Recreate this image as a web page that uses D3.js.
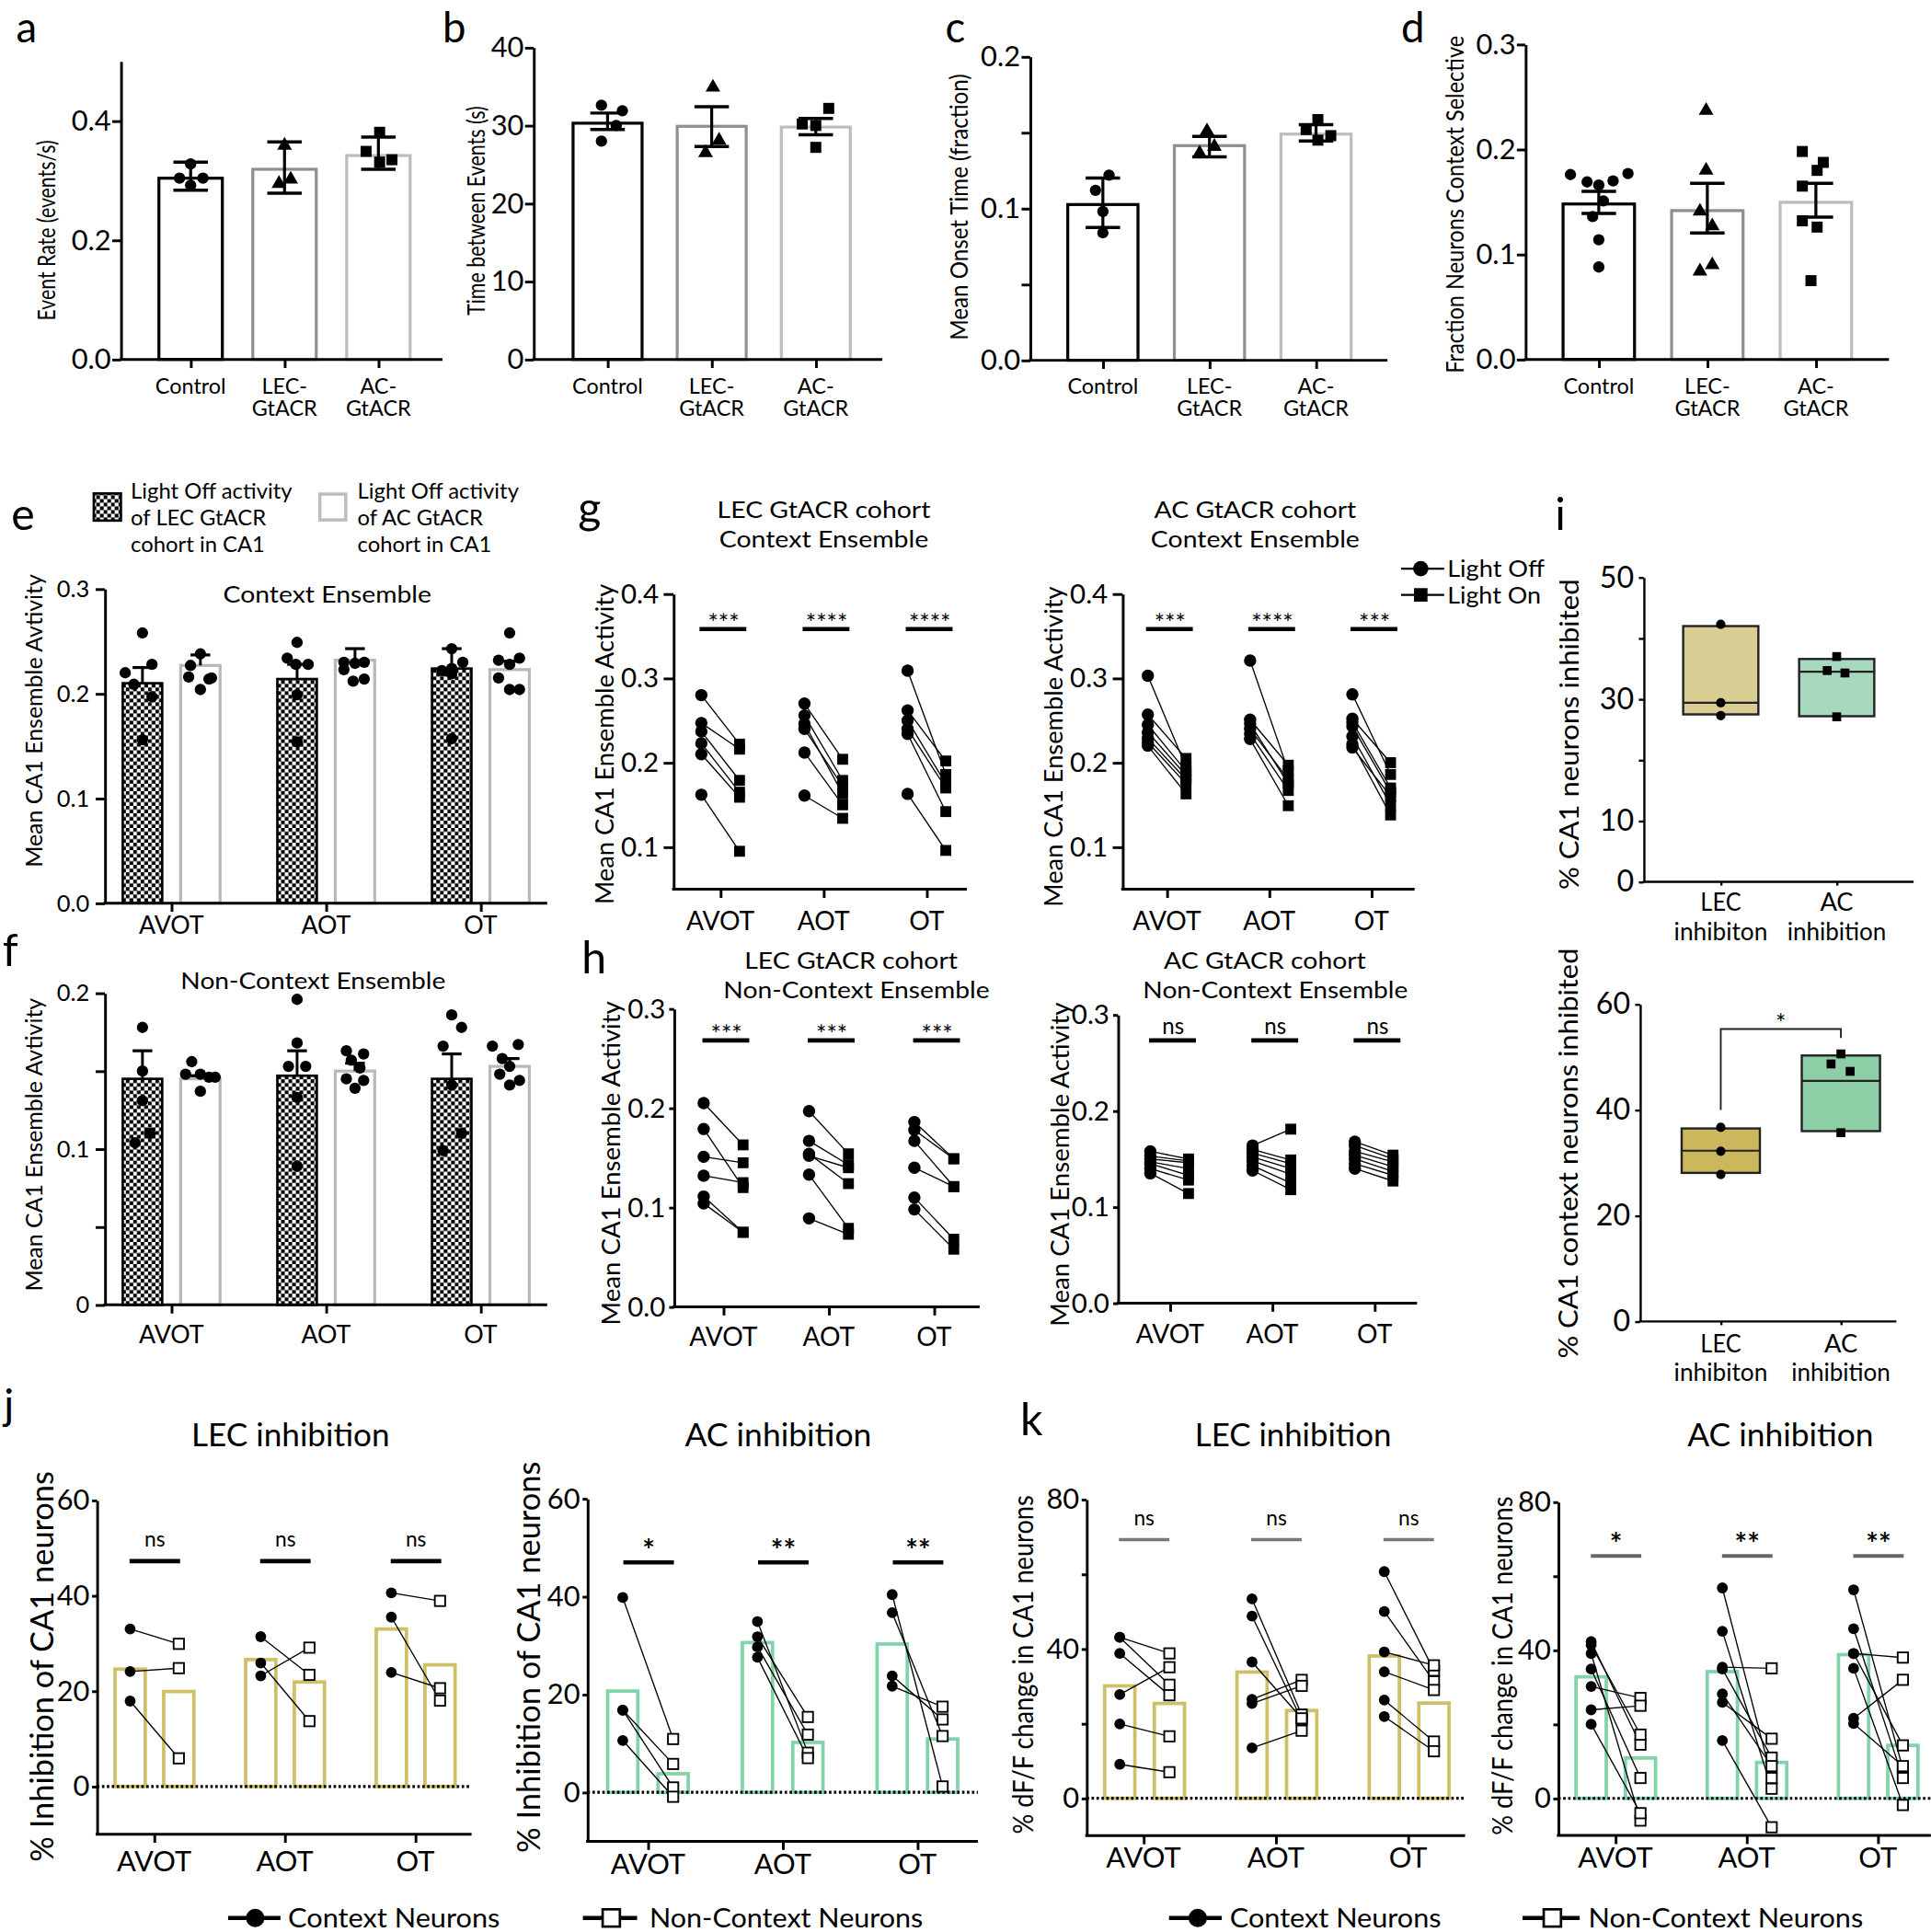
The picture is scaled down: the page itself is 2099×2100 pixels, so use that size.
<!DOCTYPE html>
<html><head><meta charset="utf-8">
<script src="https://cdn.jsdelivr.net/npm/d3@7"></script>
<style>html,body{margin:0;padding:0;background:#fff;} svg{display:block;}</style>
</head><body><script>
// ===================== DATA =====================
// a–d
const adCategories = ["Control", "LEC-GtACR", "AC-GtACR"];
const adCategoryLines = [["Control"], ["LEC-", "GtACR"], ["AC-", "GtACR"]];
const aMeans = [0.304, 0.319, 0.342];
const aErrLow = [0.284, 0.279, 0.319];
const aErrHigh = [0.331, 0.365, 0.373];
const aPoints = [[0.328, 0.304, 0.304, 0.292], [0.359, 0.295, 0.302], [0.381, 0.349, 0.335, 0.331]];
const aTickValues = [0, 0.2, 0.4];
const aTickLabels = ["0.0", "0.2", "0.4"];

const bMeans = [30.3, 29.9, 29.8];
const bErrLow = [29.5, 27.3, 28.8];
const bErrHigh = [31.6, 32.4, 30.9];
const bPoints = [[32.6, 31.9, 30.0, 28.0], [34.9, 28.1, 26.5], [32.2, 30.2, 30.0, 27.2]];
const bTickValues = [0, 10, 20, 30, 40];
const bTickLabels = ["0", "10", "20", "30", "40"];

const cMeans = [0.1026, 0.1414, 0.149];
const cErrLow = [0.0875, 0.134, 0.1444];
const cErrHigh = [0.120, 0.1475, 0.1552];
const cPoints = [[0.122, 0.112, 0.098, 0.084], [0.151, 0.1408, 0.1364], [0.1586, 0.152, 0.148, 0.145]];
const cTickValues = [0, 0.05, 0.1, 0.15, 0.2];
const cTickLabels = ["0.0", "", "0.1", "", "0.2"];

const dMeans = [0.148, 0.1417, 0.1496];
const dErrLow = [0.139, 0.1204, 0.1355];
const dErrHigh = [0.160, 0.1677, 0.1677];
const dPoints = [[0.176, 0.169, 0.166, 0.170, 0.177, 0.151, 0.136, 0.114, 0.088],
                 [0.237, 0.180, 0.141, 0.127, 0.084, 0.090],
                 [0.198, 0.1876, 0.180, 0.165, 0.132, 0.126, 0.075]];
const dTickValues = [0, 0.1, 0.2, 0.3];
const dTickLabels = ["0.0", "0.1", "0.2", "0.3"];

// e–f
const efCategories = ["AVOT", "AOT", "OT"];
const eLecMeans = [0.210, 0.214, 0.224];
const eLecErrTop = [0.225, 0.228, 0.243];
const eLecPoints = [[0.258, 0.228, 0.220, 0.209, 0.197, 0.156], [0.249, 0.234, 0.228, 0.228, 0.199, 0.154], [0.243, 0.230, 0.222, 0.219, 0.224, 0.157]];
const eAcMeans = [0.227, 0.232, 0.223];
const eAcErrTop = [0.237, 0.243, 0.231];
const eAcPoints = [[0.238, 0.227, 0.216, 0.215, 0.214, 0.204], [0.230, 0.230, 0.229, 0.223, 0.214, 0.212], [0.258, 0.232, 0.234, 0.228, 0.215, 0.204, 0.204]];
const eTickValues = [0, 0.1, 0.2, 0.3];
const eTickLabels = ["0.0", "0.1", "0.2", "0.3"];

const fLecMeans = [0.145, 0.147, 0.145];
const fLecErrTop = [0.163, 0.163, 0.161];
const fLecPoints = [[0.178, 0.150, 0.131, 0.110, 0.104], [0.196, 0.168, 0.153, 0.153, 0.133, 0.089], [0.186, 0.178, 0.166, 0.141, 0.110, 0.099]];
const fAcMeans = [0.145, 0.150, 0.153];
const fAcErrTop = [0.147, 0.155, 0.158];
const fAcPoints = [[0.156, 0.148, 0.148, 0.146, 0.146, 0.137], [0.163, 0.161, 0.157, 0.152, 0.145, 0.144, 0.139], [0.166, 0.167, 0.158, 0.153, 0.148, 0.144, 0.141]];
const fTickValues = [0, 0.05, 0.1, 0.15, 0.2];
const fTickLabels = ["0", "", "0.1", "", "0.2"];

// g–h (Light Off vs Light On)
const ghCategories = ["AVOT", "AOT", "OT"];
const gLecOff = [[0.280, 0.247, 0.237, 0.223, 0.210, 0.162], [0.270, 0.256, 0.246, 0.240, 0.212, 0.161], [0.309, 0.262, 0.250, 0.240, 0.234, 0.163]];
const gLecOn  = [[0.222, 0.216, 0.179, 0.165, 0.159, 0.095], [0.204, 0.179, 0.163, 0.172, 0.150, 0.134], [0.186, 0.202, 0.175, 0.170, 0.142, 0.096]];
const gAcOff = [[0.303, 0.257, 0.245, 0.236, 0.229, 0.224, 0.220], [0.321, 0.251, 0.246, 0.240, 0.234, 0.228], [0.281, 0.252, 0.248, 0.243, 0.231, 0.218, 0.222]];
const gAcOn  = [[0.195, 0.205, 0.190, 0.185, 0.180, 0.175, 0.163], [0.190, 0.197, 0.175, 0.180, 0.167, 0.149], [0.186, 0.200, 0.170, 0.165, 0.150, 0.160, 0.138]];
const gLecSig = ["***", "****", "****"];
const gAcSig = ["***", "****", "***"];
const gTickValues = [0.1, 0.2, 0.3, 0.4];
const gTickLabels = ["0.1", "0.2", "0.3", "0.4"];

const hLecOff = [[0.205, 0.179, 0.151, 0.132, 0.111, 0.104], [0.197, 0.167, 0.154, 0.152, 0.133, 0.089], [0.186, 0.178, 0.167, 0.140, 0.110, 0.098]];
const hLecOn  = [[0.163, 0.120, 0.145, 0.125, 0.075, 0.075], [0.154, 0.143, 0.124, 0.140, 0.079, 0.073], [0.149, 0.149, 0.121, 0.121, 0.068, 0.058]];
const hAcOff = [[0.158, 0.153, 0.150, 0.147, 0.145, 0.140, 0.135], [0.164, 0.160, 0.156, 0.152, 0.148, 0.143, 0.138], [0.168, 0.164, 0.158, 0.154, 0.150, 0.145, 0.140]];
const hAcOn  = [[0.150, 0.148, 0.146, 0.140, 0.133, 0.128, 0.114], [0.181, 0.149, 0.145, 0.140, 0.134, 0.125, 0.118], [0.154, 0.150, 0.147, 0.142, 0.137, 0.133, 0.127]];
const hLecSig = ["***", "***", "***"];
const hAcSig = ["ns", "ns", "ns"];
const hTickValues = [0, 0.1, 0.2, 0.3];
const hTickLabels = ["0.0", "0.1", "0.2", "0.3"];

// i (box plots)
const iCategories = ["LEC inhibiton", "AC inhibition"];
const iCategoryLines = [["LEC", "inhibiton"], ["AC", "inhibition"]];
const iTopQ1 = [27.5, 27.2];
const iTopMedian = [29.4, 34.5];
const iTopQ3 = [42.0, 36.6];
const iTopPoints = [[42.3, 29.4, 27.3], [37.0, 34.7, 34.3, 27.1]];
const iTopTickValues = [0, 10, 20, 30, 40, 50];
const iTopTickLabels = ["0", "10", "", "30", "", "50"];
const iBotQ1 = [28.1, 36.0];
const iBotMedian = [32.3, 45.5];
const iBotQ3 = [36.5, 50.3];
const iBotPoints = [[36.7, 32.2, 27.8], [50.6, 48.7, 47.3, 35.7]];
const iBotTickValues = [0, 20, 40, 60];
const iBotTickLabels = ["0", "20", "40", "60"];
const iBotBracket = [40, 55.3, 53.6];

// j (% inhibition)
const jkCategories = ["AVOT", "AOT", "OT"];
const jLecCtx = [[33.0, 24.1, 17.9], [31.4, 25.9, 23.2], [40.6, 35.5, 23.9]];
const jLecNon = [[29.9, 24.8, 5.9], [23.4, 13.7, 29.1], [38.9, 18.0, 20.6]];
const jLecCtxBar = [24.6, 26.6, 33.0];
const jLecNonBar = [19.9, 21.9, 25.5];
const jAcCtx = [[39.8, 16.8, 16.8, 10.6], [34.9, 31.8, 29.7, 27.6], [40.4, 36.7, 23.8, 21.7]];
const jAcNon = [[10.9, 5.8, 1.0, -0.9], [8.1, 15.4, 11.8, 7.0], [1.2, 11.5, 14.9, 17.5]];
const jAcCtxBar = [20.7, 30.6, 30.3];
const jAcNonBar = [3.8, 10.2, 10.9];
const jLecSig = ["ns", "ns", "ns"];
const jAcSig = ["*", "**", "**"];
const jTickValues = [0, 20, 40, 60];
const jTickLabels = ["0", "20", "40", "60"];

// k (% dF/F change)
const kLecCtx = [[43.1, 43.1, 38.8, 27.8, 19.9, 9.1], [53.4, 48.8, 36.5, 26.5, 25.4, 13.5], [60.7, 50.0, 39.2, 33.9, 26.3, 21.9]];
const kLecNon = [[38.8, 30.4, 27.6, 35.1, 16.6, 7.0], [22.4, 21.0, 21.4, 31.7, 30.1, 18.1], [34.2, 31.3, 35.6, 29.0, 15.2, 12.6]];
const kLecCtxBar = [30.1, 33.8, 38.1];
const kLecNonBar = [25.4, 23.5, 25.5];
const kAcCtx = [[42.3, 41.4, 39.1, 34.9, 30.2, 23.9, 20.0], [56.8, 45.1, 35.4, 34.9, 28.2, 25.9, 15.6], [56.3, 45.8, 39.1, 39.1, 35.1, 21.6, 20.2]];
const kAcNon = [[14.5, 17.2, -6.0, 5.5, 27.1, 25.0, -4.0], [5.5, 2.6, 35.1, 11.0, 8.7, 16.1, -7.8], [8.0, 5.5, 38.0, 14.3, -1.8, 32.0, 8.7]];
const kAcCtxBar = [32.8, 34.2, 38.8];
const kAcNonBar = [10.9, 9.7, 14.3];
const kLecSig = ["ns", "ns", "ns"];
const kAcSig = ["*", "**", "**"];
const kTickValues = [0, 20, 40, 60, 80];
const kTickLabels = ["0", "", "40", "", "80"];

// ===================== LAYOUT / STYLE =====================
const W = 1567, H = 1568;
const FONT = "Lato, 'Open Sans', 'DejaVu Sans', sans-serif";
const GOLD = "#cfbf66", GREEN = "#83d3aa";
const adBarColors = ["#000000", "#8f8f8f", "#bdbdbd"];
const adShapes = ["circle", "triangle", "square"];

const svg = d3.select("body").append("svg")
  .attr("width", 2099).attr("height", 2100)
  .attr("viewBox", `0 0 ${W} ${H}`)
  .style("font-family", FONT);
svg.append("rect").attr("width", W).attr("height", H).attr("fill", "#fff");

const defs = svg.append("defs");
const pat = defs.append("pattern").attr("id", "checker").attr("patternUnits", "userSpaceOnUse")
  .attr("width", 6).attr("height", 6);
pat.append("rect").attr("width", 6).attr("height", 6).attr("fill", "#fff");
pat.append("rect").attr("width", 3).attr("height", 3).attr("fill", "#000");
pat.append("rect").attr("x", 3).attr("y", 3).attr("width", 3).attr("height", 3).attr("fill", "#000");

function txt(g, x, y, s, o = {}) {
  const t = g.append("text").attr("x", x).attr("y", y).text(s)
    .attr("font-size", o.size || 16).attr("text-anchor", o.anchor || "start")
    .attr("fill", o.fill || "#000");
  if (o.weight) t.attr("font-weight", o.weight);
  if (o.len) t.attr("textLength", o.len).attr("lengthAdjust", "spacingAndGlyphs");
  return t;
}
function vtxt(g, cx, cy, s, size, len) {
  const t = g.append("text").attr("transform", `translate(${cx},${cy}) rotate(-90)`)
    .attr("text-anchor", "middle").attr("dy", "0.36em").attr("font-size", size).text(s);
  if (len) t.attr("textLength", len).attr("lengthAdjust", "spacingAndGlyphs");
  return t;
}
function yAxis(g, y, x, vals, labels, o = {}) {
  const ax = d3.axisLeft(y).tickValues(vals).tickSize(o.tick || 7).tickSizeOuter(0)
    .tickPadding(o.pad == null ? 3 : o.pad).tickFormat((v, i) => labels[i]);
  const ga = g.append("g").attr("transform", `translate(${x},0)`).call(ax);
  ga.select(".domain").attr("stroke", "#000").attr("stroke-width", o.sw || 2.2);
  ga.selectAll(".tick line").attr("stroke", "#000").attr("stroke-width", o.sw || 2.2);
  ga.selectAll(".tick text").attr("font-size", o.size || 22).attr("font-family", FONT).attr("fill", "#000");
  return ga;
}
function xAxis(g, x, yPos, x0, x1, o = {}) {
  g.append("line").attr("x1", x0 - (o.sw || 2.2) / 2).attr("x2", x1).attr("y1", yPos).attr("y2", yPos)
    .attr("stroke", "#000").attr("stroke-width", o.sw || 2.2);
  const ax = d3.axisBottom(x).tickSize(o.tick || 6).tickSizeOuter(0).tickFormat("");
  const ga = g.append("g").attr("transform", `translate(0,${yPos})`).call(ax);
  ga.select(".domain").remove();
  ga.selectAll(".tick line").attr("stroke", "#000").attr("stroke-width", o.sw || 2.2);
}
function marker(g, shape, x, y, s, fill = "#000", stroke = "none", sw = 0) {
  if (shape === "circle") {
    return g.append("circle").attr("cx", x).attr("cy", y).attr("r", s).attr("fill", fill)
      .attr("stroke", stroke).attr("stroke-width", sw);
  }
  const type = shape === "square" ? d3.symbolSquare : d3.symbolTriangle;
  return g.append("path").attr("d", d3.symbol().type(type).size(s)())
    .attr("transform", `translate(${x},${y})`).attr("fill", fill).attr("stroke", stroke).attr("stroke-width", sw);
}
function panelLetter(x, y, s, size) { txt(svg, x, y, s, { size: size || 36 }); }

// ===================== PANELS a–d =====================
const adPanels = [
  { means: aMeans, lo: aErrLow, hi: aErrHigh, pts: aPoints, tv: aTickValues, tl: aTickLabels, domain: [0, 0.5],
    L: { x0: 98, xEnd: 359, yB: 291.7, yT: 49.8, c0: 154.6, c2: 307, bw: 51.5, pad: 1 },
    jit: [[0, -9, 10, 0], [0, -4.5, 5], [1, -10, 11, 1]],
    yl: ["Event Rate (events/s)", 38, 187, 146.5] },
  { means: bMeans, lo: bErrLow, hi: bErrHigh, pts: bPoints, tv: bTickValues, tl: bTickLabels, domain: [0, 40],
    L: { x0: 433, xEnd: 716, yB: 291.7, yT: 38.6, c0: 493, c2: 662, bw: 56, pad: 1 },
    jit: [[-5, 12, 7, -5], [1, 6, -5], [10.5, -11, 0, 0]],
    yl: ["Time between Events (s)", 386.5, 171, 170] },
  { means: cMeans, lo: cErrLow, hi: cErrHigh, pts: cPoints, tv: cTickValues, tl: cTickLabels, domain: [0, 0.2],
    L: { x0: 836, xEnd: 1126, yB: 292.4, yT: 46, c0: 895, c2: 1068, bw: 57, pad: 1 },
    jit: [[5, -6, 0, 0], [-2, 4, -8], [1.5, -8, 12, 1.5]],
    yl: ["Mean Onset Time (fraction)", 778, 168, 216] },
  { means: dMeans, lo: dErrLow, hi: dErrHigh, pts: dPoints, tv: dTickValues, tl: dTickLabels, domain: [0, 0.3],
    L: { x0: 1238, xEnd: 1533, yB: 291.7, yT: 36, c0: 1297.5, c2: 1473.7, bw: 58, pad: 1 },
    jit: [[-23, -9.5, 0, 11.6, 23.7, 3.7, -5, 0, 0], [-1, -1, -6, 4, -6, 4], [-11, 6, 1, -11, -11, 1, -4]],
    yl: ["Fraction Neurons Context Selective", 1181, 166, 274] }
];
adPanels.forEach(p => {
  const L = p.L, g = svg.append("g");
  const y = d3.scaleLinear().domain(p.domain).range([L.yB, L.yT]);
  const x = d3.scalePoint().domain(adCategories).range([L.c0, L.c2]);
  adCategories.forEach((c, i) => {
    const cx = x(c);
    g.append("rect").attr("x", cx - L.bw / 2).attr("y", y(p.means[i])).attr("width", L.bw)
      .attr("height", y(0) - y(p.means[i])).attr("fill", "#fff").attr("stroke", adBarColors[i]).attr("stroke-width", 2.4);
  });
  adCategories.forEach((c, i) => {
    const cx = x(c);
    p.pts[i].forEach((v, k) => {
      const dx = p.jit[i][k] || 0;
      if (adShapes[i] === "circle") marker(g, "circle", cx + dx, y(v), 4.6);
      else if (adShapes[i] === "triangle") marker(g, "triangle", cx + dx, y(v), 62);
      else marker(g, "square", cx + dx, y(v), 80);
    });
    const cw = 14;
    const a = y(p.lo[i]), b = y(p.hi[i]);
    g.append("line").attr("x1", cx).attr("x2", cx).attr("y1", a).attr("y2", b).attr("stroke", "#000").attr("stroke-width", 2.4);
    g.append("line").attr("x1", cx - cw).attr("x2", cx + cw).attr("y1", a).attr("y2", a).attr("stroke", "#000").attr("stroke-width", 2.6);
    g.append("line").attr("x1", cx - cw).attr("x2", cx + cw).attr("y1", b).attr("y2", b).attr("stroke", "#000").attr("stroke-width", 2.6);
  });
  yAxis(g, y, L.x0, p.tv, p.tl, { size: 23, tick: 7, pad: L.pad, sw: 2.2 });
  xAxis(g, x, L.yB, L.x0, L.xEnd, { tick: 7, sw: 2.2 });
  adCategories.forEach((c, i) => {
    adCategoryLines[i].forEach((s, k) => txt(g, x(c), 319.5 + k * 18, s, { size: 17.5, anchor: "middle" }));
  });
  vtxt(g, p.yl[1], p.yl[2], p.yl[0], 19.5, p.yl[3]);
});
panelLetter(13, 34, "a", 34); panelLetter(359, 34, "b", 34); panelLetter(767, 34, "c", 34); panelLetter(1137, 34, "d", 34);

// ===================== PANELS e–f =====================
function efPanel(o) {
  const g = svg.append("g");
  const y = d3.scaleLinear().domain(o.domain).range([o.yB, o.yT]);
  const x = d3.scalePoint().domain(efCategories).range([139, 390]);
  const bw = 32, off = 23.5;
  efCategories.forEach((c, i) => {
    const cxs = [x(c) - off, x(c) + off];
    const means = [o.lecMeans[i], o.acMeans[i]];
    const tops = [o.lecErr[i], o.acErr[i]];
    const pts = [o.lecPts[i], o.acPts[i]];
    const jits = [o.lecJit[i], o.acJit[i]];
    [0, 1].forEach(s => {
      const cx = cxs[s];
      g.append("rect").attr("x", cx - bw / 2).attr("y", y(means[s])).attr("width", bw)
        .attr("height", y(0) - y(means[s]))
        .attr("fill", s === 0 ? "url(#checker)" : "#fff")
        .attr("stroke", s === 0 ? "#000" : "#b8b8b8").attr("stroke-width", s === 0 ? 2 : 2.4);
      g.append("line").attr("x1", cx).attr("x2", cx).attr("y1", y(means[s])).attr("y2", y(tops[s]))
        .attr("stroke", "#000").attr("stroke-width", 2.2);
      g.append("line").attr("x1", cx - 8).attr("x2", cx + 8).attr("y1", y(tops[s])).attr("y2", y(tops[s]))
        .attr("stroke", "#000").attr("stroke-width", 2.4);
      pts[s].forEach((v, k) => marker(g, "circle", cx + (jits[s][k] || 0), y(v), 4.6));
    });
  });
  yAxis(g, y, 85, o.tv, o.tl, { size: 19, tick: 7.5, pad: 5, sw: 2.2 });
  xAxis(g, x, o.yB, 85, 444, { tick: 7, sw: 2.2 });
  efCategories.forEach(c => txt(g, x(c), o.labY, c, { size: 20, anchor: "middle" }));
  txt(g, o.title[1], o.title[2], o.title[0], { size: 18, anchor: "middle", len: o.title[3] });
  vtxt(g, 27.5, o.ylY, "Mean CA1 Ensemble Avtivity", 19, 238);
}
efPanel({ domain: [0, 0.3], yB: 733, yT: 478, lecMeans: eLecMeans, lecErr: eLecErrTop, lecPts: eLecPoints,
  acMeans: eAcMeans, acErr: eAcErrTop, acPts: eAcPoints, tv: eTickValues, tl: eTickLabels,
  lecJit: [[0, 7.7, -14, -7, 7.7, 0], [0, -8, -1, 9, 0, 0], [0, 9, -8, 0, 0, 0]],
  acJit: [[0, -8, -9.5, 9, 7, 0], [-9, 7.5, 0, -9, 7.5, -1.5], [0, -9, 8, 0, -9, 0, 8]],
  labY: 758, title: ["Context Ensemble", 265.5, 489, 169], ylY: 585 });
efPanel({ domain: [0, 0.2], yB: 1059, yT: 806, lecMeans: fLecMeans, lecErr: fLecErrTop, lecPts: fLecPoints,
  acMeans: fAcMeans, acErr: fAcErrTop, acPts: fAcPoints, tv: fTickValues, tl: fTickLabels,
  lecJit: [[0, 0, 0, 6, -6], [0, 0, -7, 7, 0, 0], [0, 8, -7, 0, 8, -7]],
  acJit: [[-7, -12, 0, 7, 12, 0], [-7, 7, -3, 4, -7, 7, 0], [-14, 7, -6, 0, -8, 8, 0]],
  labY: 1090, title: ["Non-Context Ensemble", 254, 803, 215], ylY: 929 });
// legend e
{
  const g = svg.append("g");
  g.append("rect").attr("x", 76).attr("y", 400.5).attr("width", 22).attr("height", 22)
    .attr("fill", "url(#checker)").attr("stroke", "#000").attr("stroke-width", 2);
  g.append("rect").attr("x", 259.5).attr("y", 401).attr("width", 21).attr("height", 21)
    .attr("fill", "#fff").attr("stroke", "#bdbdbd").attr("stroke-width", 2.6);
  ["Light Off activity", "of LEC GtACR", "cohort in CA1"].forEach((s, i) => txt(g, 106, 405 + i * 21.5, s, { size: 17.8 }));
  ["Light Off activity", "of AC GtACR", "cohort in CA1"].forEach((s, i) => txt(g, 290, 405 + i * 21.5, s, { size: 17.8 }));
}
panelLetter(9, 430, "e"); panelLetter(2, 784, "f");

// ===================== PANELS g–h =====================
function pairedPanel(o) {
  const g = svg.append("g");
  const y = d3.scaleLinear().domain(o.domain).range([o.yB, o.yT]);
  const x = d3.scalePoint().domain(ghCategories).range([o.c0, o.c2]);
  ghCategories.forEach((c, i) => {
    const xo = x(c) + o.dOff, xn = x(c) + o.dOn;
    o.off[i].forEach((v, k) => {
      g.append("line").attr("x1", xo).attr("y1", y(v)).attr("x2", xn).attr("y2", y(o.on[i][k]))
        .attr("stroke", "#000").attr("stroke-width", 1);
    });
    o.off[i].forEach(v => marker(g, "circle", xo, y(v), 5));
    o.on[i].forEach(v => marker(g, "square", xn, y(v), 78));
    g.append("line").attr("x1", x(c) - 17).attr("x2", x(c) + 21).attr("y1", o.sigY).attr("y2", o.sigY)
      .attr("stroke", "#000").attr("stroke-width", 3.4);
    const isNs = o.sig[i] === "ns";
    txt(g, x(c) + 2.5, isNs ? o.sigY - 5 : o.sigY + 2.5, o.sig[i], { size: isNs ? 18 : 20, anchor: "middle" });
  });
  yAxis(g, y, o.x0, o.tv, o.tl, { size: 22, tick: o.tick, pad: o.pad, sw: 2.2 });
  xAxis(g, x, o.yB, o.x0, o.xEnd, { tick: 7, sw: 2.2 });
  ghCategories.forEach(c => txt(g, x(c), o.labY, c, { size: 21, anchor: "middle" }));
  o.titles.forEach(t => txt(g, t[1], t[2], t[0], { size: 19, anchor: "middle", len: t[3] }));
  vtxt(g, o.yl[0], o.yl[1], "Mean CA1 Ensemble Activity", 20, o.yl[2]);
}
pairedPanel({ domain: [0.05, 0.4], yB: 721.7, yT: 482, x0: 546.5, xEnd: 784.6, c0: 584.6, c2: 752, dOff: -15.5, dOn: 15.5,
  off: gLecOff, on: gLecOn, sig: gLecSig, sigY: 510.6, tv: gTickValues, tl: gTickLabels, tick: 8, pad: 4, labY: 755,
  titles: [["LEC GtACR cohort", 668.5, 420.5, 173], ["Context Ensemble", 668.5, 444, 170]], yl: [491, 604, 260] });
pairedPanel({ domain: [0.05, 0.4], yB: 721.7, yT: 482, x0: 911, xEnd: 1148, c0: 947, c2: 1113, dOff: -15.5, dOn: 15.5,
  off: gAcOff, on: gAcOn, sig: gAcSig, sigY: 510.6, tv: gTickValues, tl: gTickLabels, tick: 8, pad: 4, labY: 755,
  titles: [["AC GtACR cohort", 1018.6, 420.5, 164], ["Context Ensemble", 1018.6, 444, 169.5]], yl: [855, 606, 260] });
pairedPanel({ domain: [0, 0.3], yB: 1060.6, yT: 818.7, x0: 547, xEnd: 795, c0: 587, c2: 758, dOff: -16, dOn: 16,
  off: hLecOff, on: hLecOn, sig: hLecSig, sigY: 844.4, tv: hTickValues, tl: hTickLabels, tick: 4, pad: 3, labY: 1092,
  titles: [["LEC GtACR cohort", 690.6, 786.5, 173], ["Non-Context Ensemble", 695, 810.5, 216]], yl: [496, 944, 263] });
pairedPanel({ domain: [0, 0.3], yB: 1057.6, yT: 823.6, x0: 907.3, xEnd: 1150, c0: 949.5, c2: 1115.5, dOff: -16, dOn: 15,
  off: hAcOff, on: hAcOn, sig: hAcSig, sigY: 844.4, tv: hTickValues, tl: hTickLabels, tick: 4, pad: 3, labY: 1090,
  titles: [["AC GtACR cohort", 1026.5, 786.5, 164], ["Non-Context Ensemble", 1035, 810.5, 215]], yl: [860, 945, 263] });
// legend g
{
  const g = svg.append("g");
  [["Light Off", "circle", 461.5, 79], ["Light On", "square", 482.8, 76]].forEach(([s, sh, yy, len]) => {
    g.append("line").attr("x1", 1137).attr("x2", 1172).attr("y1", yy).attr("y2", yy).attr("stroke", "#000").attr("stroke-width", 1.6);
    if (sh === "circle") marker(g, "circle", 1153, yy, 6.2); else marker(g, "square", 1153, yy, 120);
    txt(g, 1174.5, yy + 7, s, { size: 19, len: len });
  });
}
panelLetter(469, 425, "g"); panelLetter(472, 790, "h");

// ===================== PANEL i =====================
function boxPanel(o) {
  const g = svg.append("g");
  const y = d3.scaleLinear().domain(o.domain).range([o.yB, o.yT]);
  const x = d3.scalePoint().domain(iCategories).range([o.c0, o.c1]);
  iCategories.forEach((c, i) => {
    const cx = x(c);
    g.append("rect").attr("x", cx - o.bw / 2).attr("y", y(o.q3[i])).attr("width", o.bw)
      .attr("height", y(o.q1[i]) - y(o.q3[i])).attr("fill", o.fills[i]).attr("stroke", "#222").attr("stroke-width", 1.8);
    g.append("line").attr("x1", cx - o.bw / 2).attr("x2", cx + o.bw / 2).attr("y1", y(o.med[i])).attr("y2", y(o.med[i]))
      .attr("stroke", "#222").attr("stroke-width", 1.6);
    o.pts[i].forEach((v, k) => {
      const dx = o.jit[i][k] || 0;
      if (i === 0) marker(g, "circle", cx + dx, y(v), 3.8); else marker(g, "square", cx + dx, y(v), 52);
    });
  });
  yAxis(g, y, o.x0, o.tv, o.tl, { size: 24, tick: 4, pad: 4, sw: 1.8 });
  xAxis(g, x, o.yB, o.x0, o.xEnd, { tick: 3, sw: 1.8 });
  iCategories.forEach((c, i) => {
    iCategoryLines[i].forEach((s, k) => txt(g, x(c), o.labY[k], s, { size: 20, anchor: "middle", len: o.labLen[i][k] }));
  });
  vtxt(g, o.yl[0], o.yl[1], o.yl[3], 22, o.yl[2]);
  return { g, x, y };
}
boxPanel({ domain: [0, 50], yB: 715.7, yT: 468.6, x0: 1334, xEnd: 1553, c0: 1396.5, c1: 1490.6, bw: 61,
  q1: iTopQ1, med: iTopMedian, q3: iTopQ3, pts: iTopPoints, jit: [[0, 0, 0], [0, -7.7, 6.7, 0]],
  fills: ["#d8cd92", "#a6d9bd"], tv: iTopTickValues, tl: iTopTickLabels,
  labY: [739, 763], labLen: [[33, 76], [27, 80.4]], yl: [1273, 596, 252, "% CA1 neurons inhibited"] });
{
  const r = boxPanel({ domain: [0, 60], yB: 1072.5, yT: 815, x0: 1331, xEnd: 1539, c0: 1396.5, c1: 1494, bw: 63.5,
    q1: iBotQ1, med: iBotMedian, q3: iBotQ3, pts: iBotPoints, jit: [[0, 0, 0], [0, -8, 7.5, 0]],
    fills: ["#cbb85d", "#8dcea6"], tv: iBotTickValues, tl: iBotTickLabels,
    labY: [1097.5, 1121], labLen: [[33, 76], [27, 80.4]], yl: [1272.5, 936, 333, "% CA1 context neurons inhibited"] });
  const x0 = r.x(iCategories[0]), x1 = r.x(iCategories[1]);
  r.g.append("path").attr("d", `M${x0},${r.y(iBotBracket[0])}V${r.y(iBotBracket[1])}H${x1}V${r.y(iBotBracket[2])}`)
    .attr("fill", "none").attr("stroke", "#222").attr("stroke-width", 1.4);
  txt(r.g, (x0 + x1) / 2, 838, "*", { size: 20, anchor: "middle" });
}
panelLetter(1262, 430, "i");

// ===================== PANELS j–k =====================
function inhibPanel(o) {
  const g = svg.append("g");
  const y = d3.scaleLinear().domain(o.domain).range([o.yB, o.yT]);
  const x = d3.scalePoint().domain(jkCategories).range([o.c0, o.c2]);
  const bw = 24.5;
  jkCategories.forEach((c, i) => {
    [[o.ctxBar[i], o.dc], [o.nonBar[i], o.dn]].forEach(([v, d]) => {
      g.append("rect").attr("x", x(c) + d - bw / 2).attr("y", y(v)).attr("width", bw).attr("height", y(0) - y(v))
        .attr("fill", "none").attr("stroke", o.color).attr("stroke-width", 2.8);
    });
  });
  g.append("line").attr("x1", o.x0).attr("x2", o.xEnd).attr("y1", y(0)).attr("y2", y(0))
    .attr("stroke", "#000").attr("stroke-width", 2.4).attr("stroke-dasharray", "2,2");
  jkCategories.forEach((c, i) => {
    const xc = x(c) + o.dc, xn = x(c) + o.dn;
    o.ctx[i].forEach((v, k) => g.append("line").attr("x1", xc).attr("y1", y(v)).attr("x2", xn).attr("y2", y(o.non[i][k]))
      .attr("stroke", "#000").attr("stroke-width", 1));
    o.ctx[i].forEach(v => marker(g, "circle", xc, y(v), 4.4));
    o.non[i].forEach(v => g.append("rect").attr("x", xn - 4.2).attr("y", y(v) - 4.2).attr("width", 8.4).attr("height", 8.4)
      .attr("fill", "#fff").attr("stroke", "#000").attr("stroke-width", 1.4));
    g.append("line").attr("x1", x(c) - 20).attr("x2", x(c) + 21).attr("y1", o.sigY).attr("y2", o.sigY)
      .attr("stroke", o.sigColor).attr("stroke-width", o.sigW);
    const isNs = o.sig[i] === "ns";
    txt(g, x(c) + 0.5, isNs ? o.nsY : o.starY, o.sig[i], { size: isNs ? 17 : 24, anchor: "middle", weight: isNs ? null : "bold" });
  });
  yAxis(g, y, o.x0, o.tv, o.tl, { size: 23, tick: 4, pad: 2, sw: 2.2 });
  xAxis(g, x, o.yB, o.x0, o.xEnd, { tick: 7, sw: 2.2 });
  jkCategories.forEach(c => txt(g, x(c), o.labY, c, { size: 23, anchor: "middle" }));
  txt(g, o.title[1], 1173.5, o.title[0], { size: 26, anchor: "middle", len: o.title[2] });
  vtxt(g, o.yl[0], o.yl[1], o.yl[3], o.yl[4], o.yl[2]);
}
inhibPanel({ domain: [-10, 60], yB: 1488.6, yT: 1217.6, x0: 78.6, xEnd: 382.6, c0: 125, c2: 337, dc: -19.5, dn: 20,
  ctx: jLecCtx, non: jLecNon, ctxBar: jLecCtxBar, nonBar: jLecNonBar, color: GOLD, sig: jLecSig,
  sigY: 1267, sigColor: "#000", sigW: 3.4, nsY: 1255, starY: 1266, tv: jTickValues, tl: jTickLabels, labY: 1519,
  title: ["LEC inhibition", 235.7, 161], yl: [34, 1352.5, 317, "% Inhibition of CA1 neurons", 26] });
inhibPanel({ domain: [-10, 60], yB: 1494.4, yT: 1216.3, x0: 476.7, xEnd: 793.6, c0: 525.8, c2: 744.5, dc: -20.5, dn: 20.4,
  ctx: jAcCtx, non: jAcNon, ctxBar: jAcCtxBar, nonBar: jAcNonBar, color: GREEN, sig: jAcSig,
  sigY: 1268, sigColor: "#000", sigW: 3.4, nsY: 1255, starY: 1267, tv: jTickValues, tl: jTickLabels, labY: 1521,
  title: ["AC inhibition", 631.5, 151.5], yl: [429, 1345, 317.6, "% Inhibition of CA1 neurons", 26] });
inhibPanel({ domain: [-10, 80], yB: 1489.8, yT: 1217, x0: 881.8, xEnd: 1189, c0: 928, c2: 1142.7, dc: -19.3, dn: 21,
  ctx: kLecCtx, non: kLecNon, ctxBar: kLecCtxBar, nonBar: kLecNonBar, color: GOLD, sig: kLecSig,
  sigY: 1249.5, sigColor: "#777", sigW: 2.6, nsY: 1238, starY: 1260, tv: kTickValues, tl: kTickLabels, labY: 1516,
  title: ["LEC inhibition", 1049.4, 159.5], yl: [830, 1351, 275, "% dF/F change in CA1 neurons", 23] });
inhibPanel({ domain: [-10, 80], yB: 1489.6, yT: 1219, x0: 1264.6, xEnd: 1567, c0: 1311, c2: 1524, dc: -19.7, dn: 20.3,
  ctx: kAcCtx, non: kAcNon, ctxBar: kAcCtxBar, nonBar: kAcNonBar, color: GREEN, sig: kAcSig,
  sigY: 1262.8, sigColor: "#666", sigW: 3, nsY: 1250, starY: 1262, tv: kTickValues, tl: kTickLabels, labY: 1516,
  title: ["AC inhibition", 1445, 151], yl: [1219, 1352, 275, "% dF/F change in CA1 neurons", 23] });

// legends j/k
function nLegend(lx0, lx1, mx, tx, len, shape, s) {
  const g = svg.append("g"), yy = 1556.6;
  g.append("line").attr("x1", lx0).attr("x2", lx1).attr("y1", yy).attr("y2", yy).attr("stroke", "#000").attr("stroke-width", 3.2);
  if (shape === "circle") marker(g, "circle", mx, yy, 7.5);
  else g.append("rect").attr("x", mx - 7).attr("y", yy - 7).attr("width", 14).attr("height", 14)
    .attr("fill", "#fff").attr("stroke", "#000").attr("stroke-width", 2);
  txt(g, tx, yy + 8, s, { size: 22, len: len });
}
nLegend(185, 227.5, 207, 233.6, 172, "circle", "Context Neurons");
nLegend(473, 517, 496, 527, 222, "square", "Non-Context Neurons");
nLegend(948.7, 991.5, 972, 998, 171.6, "circle", "Context Neurons");
nLegend(1235.6, 1282, 1259.8, 1289, 223, "square", "Non-Context Neurons");
panelLetter(3, 1152, "j", 34); panelLetter(828, 1165, "k");
</script></body></html>
